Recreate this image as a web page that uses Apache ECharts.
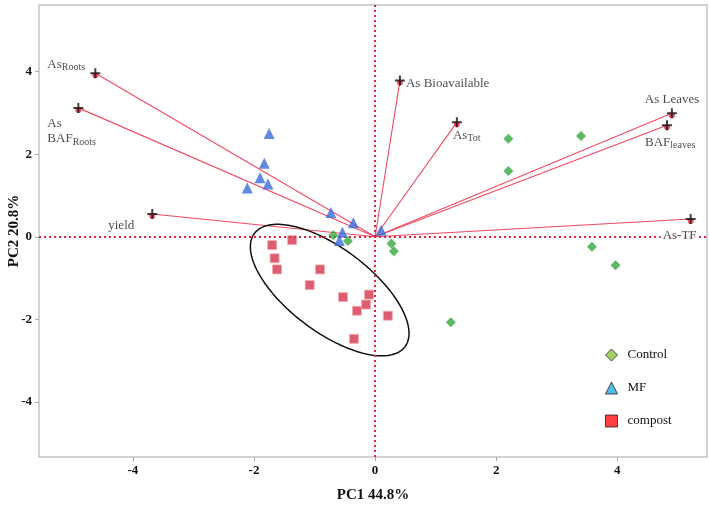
<!DOCTYPE html>
<html><head><meta charset="utf-8">
<script src="https://cdn.jsdelivr.net/npm/echarts@6/dist/echarts.min.js"></script>
<style>html,body{margin:0;padding:0;background:#fff}#c{width:709px;height:510px}</style>
</head><body><div id="c"></div>
<script>
const pc1Ticks = [-4, -2, 0, 2, 4];
const pc2Ticks = [-4, -2, 0, 2, 4];

const controlPC1 = [-0.69, -0.45, 0.27, 0.31, 1.25, 2.20, 3.40, 2.20, 3.58, 3.97];
const controlPC2 = [0.04, -0.10, -0.16, -0.35, -2.07, 2.37, 2.44, 1.59, -0.24, -0.69];

const mfPC1 = [-1.75, -1.83, -1.90, -1.77, -2.11, -0.73, -0.36, -0.54, -0.59, 0.10];
const mfPC2 = [2.50, 1.78, 1.43, 1.28, 1.18, 0.59, 0.34, 0.11, -0.09, 0.16];

const compostPC1 = [-1.70, -1.37, -1.66, -1.62, -0.91, -1.08, -0.53, -0.10, -0.15, -0.30, 0.21, -0.35];
const compostPC2 = [-0.20, -0.08, -0.52, -0.79, -0.79, -1.17, -1.46, -1.40, -1.64, -1.79, -1.91, -2.47];

const loadingNames = ['AsRoots', 'AsBAFRoots', 'yield', 'AsBio', 'AsTot', 'AsLeaves', 'BAFleaves', 'AsTF'];
const loadingPC1 = [-4.62, -4.90, -3.68, 0.41, 1.35, 4.90, 4.82, 5.21];
const loadingPC2 = [3.96, 3.12, 0.55, 3.78, 2.77, 2.99, 2.70, 0.43];
const loadingText = ['{m|As}{s|Roots}', '{m|As}\n{m|BAF}{s|Roots}', '{m|yield}', '{m|As Bioavailable}',
  '{m|As}{s|Tot}', '{m|As Leaves}', '{m|BAF}{s|leaves}', '{m|As-TF}'];

// compost confidence ellipse (data units)
const ellipseCenter = [-0.75, -1.29];
const ellipseAxes = [1.886, 0.833];
const ellipseAngleDeg = -53.3;

// label placement (pixel offsets from loading end point: left edge, top edge)
const labelOffsets = {
  AsRoots: [-48, -15.5], AsBAFRoots: [-31, 9.5], yield: [-44, 5.5], AsBio: [6, -4],
  AsTot: [-4, 6.5], AsLeaves: [-27, -20], BAFleaves: [-22, 10.5], AsTF: [-30, 10.5]
};

const zip = (a, b) => a.map((v, i) => [v, b[i]]);
const serif = '"Liberation Serif","Times New Roman",serif';

const ellipsePts = [];
{
  const th = ellipseAngleDeg * Math.PI / 180;
  for (let i = 0; i <= 180; i++) {
    const t = i / 180 * 2 * Math.PI;
    const a = ellipseAxes[0] * Math.cos(t), b = ellipseAxes[1] * Math.sin(t);
    ellipsePts.push([ellipseCenter[0] + a * Math.cos(th) - b * Math.sin(th),
                     ellipseCenter[1] + a * Math.sin(th) + b * Math.cos(th)]);
  }
}

const series = [];
series.push({
  type: 'line', data: ellipsePts, showSymbol: false, silent: true, z: 3,
  lineStyle: { color: '#111', width: 1.5 },
  markLine: {
    silent: true, symbol: 'none', label: { show: false },
    lineStyle: { color: '#e3243b', type: [2, 3], width: 2 },
    data: [{ xAxis: 0 }, { yAxis: 0 }]
  }
});
loadingNames.forEach((n, i) => {
  series.push({
    type: 'line', data: [[0, 0], [loadingPC1[i], loadingPC2[i]]], showSymbol: false, silent: true, z: 2,
    lineStyle: { color: '#ef4a62', width: 1.1 }
  });
});
series.push({
  name: 'Control', type: 'scatter', data: zip(controlPC1, controlPC2), symbol: 'diamond', symbolSize: 10, z: 5,
  itemStyle: { color: '#35a83c' }
});
series.push({
  name: 'MF', type: 'scatter', data: zip(mfPC1, mfPC2), symbol: 'triangle', symbolSize: 11, z: 5,
  itemStyle: { color: '#3a6bd8' }
});
series.push({
  name: 'compost', type: 'scatter', data: zip(compostPC1, compostPC2), symbol: 'rect', symbolSize: 9, z: 5,
  itemStyle: { color: '#d5364b', borderColor: '#f3aab3', borderWidth: 1 }
});
series.push({
  type: 'scatter', silent: true, z: 6, symbol: 'circle', symbolSize: 6, symbolOffset: [0, 2],
  itemStyle: { color: '#ee2a44' },
  data: zip(loadingPC1, loadingPC2)
});
series.push({
  type: 'scatter', silent: true, z: 7, symbol: 'path://M4 0H6V4H10V6H6V10H4V6H0V4H4Z', symbolSize: 10,
  itemStyle: { color: '#111' },
  data: loadingNames.map((n, i) => {
    const off = labelOffsets[n];
    const lab = {
      show: true, formatter: loadingText[i], position: [off[0] + 5, off[1] + 5],
      align: 'left', verticalAlign: 'top',
      rich: {
        m: { fontFamily: serif, fontSize: 13, lineHeight: 15, color: '#1a1a1a', verticalAlign: 'top' },
        s: { fontFamily: serif, fontSize: 10, lineHeight: 10, color: '#1a1a1a', verticalAlign: 'bottom', padding: [7, 0, 0, 0] }
      }
    };
    if (n === 'AsTF') { lab.backgroundColor = '#fff'; lab.padding = [0, 0, 0, 2]; }
    return { value: [loadingPC1[i], loadingPC2[i]], label: lab };
  })
});

const chart = echarts.init(document.getElementById('c'), null, { renderer: 'canvas' });
chart.setOption({
  animation: false,
  backgroundColor: '#fff',
  grid: { left: 39, right: 2, top: 5, bottom: 53, show: true, borderColor: '#c4c4c4', borderWidth: 1.5,
          containLabel: false, outerBoundsMode: 'none' },
  xAxis: {
    type: 'value', min: -5.55, max: 5.48,
    name: 'PC1 44.8%', nameLocation: 'middle', nameGap: 31, nameMoveOverlap: false,
    nameTextStyle: { fontFamily: serif, fontWeight: 'bold', fontSize: 15, color: '#111' },
    axisLine: { show: false, onZero: false },
    axisTick: { show: true, length: 4, lineStyle: { color: '#aaa' }, customValues: pc1Ticks },
    axisLabel: { fontFamily: serif, fontWeight: 'bold', fontSize: 13, color: '#111', margin: 7, customValues: pc1Ticks },
    splitLine: { show: false }
  },
  yAxis: {
    type: 'value', min: -5.33, max: 5.61,
    name: 'PC2 20.8%', nameLocation: 'middle', nameGap: 17, nameRotate: 90, nameMoveOverlap: false,
    nameTextStyle: { fontFamily: serif, fontWeight: 'bold', fontSize: 15, color: '#111' },
    axisLine: { show: false, onZero: false },
    axisTick: { show: true, length: 4, lineStyle: { color: '#aaa' }, customValues: pc2Ticks },
    axisLabel: { fontFamily: serif, fontWeight: 'bold', fontSize: 13, color: '#111', margin: 7, customValues: pc2Ticks },
    splitLine: { show: false }
  },
  legend: {
    orient: 'vertical', left: 600, top: 343, itemWidth: 12, itemHeight: 12, itemGap: 19,
    textStyle: { fontFamily: serif, fontSize: 13, color: '#111', padding: [0, 0, 0, 5], lineHeight: 14 },
    data: [
      { name: 'Control', icon: 'diamond', itemStyle: { color: '#8cc63f', borderColor: '#222', borderWidth: 1 } },
      { name: 'MF', icon: 'triangle', itemStyle: { color: '#29abe2', borderColor: '#222', borderWidth: 1 } },
      { name: 'compost', icon: 'rect', itemStyle: { color: '#ff1010', borderColor: '#222', borderWidth: 1 } }
    ]
  },
  series: series
});
</script></body></html>
